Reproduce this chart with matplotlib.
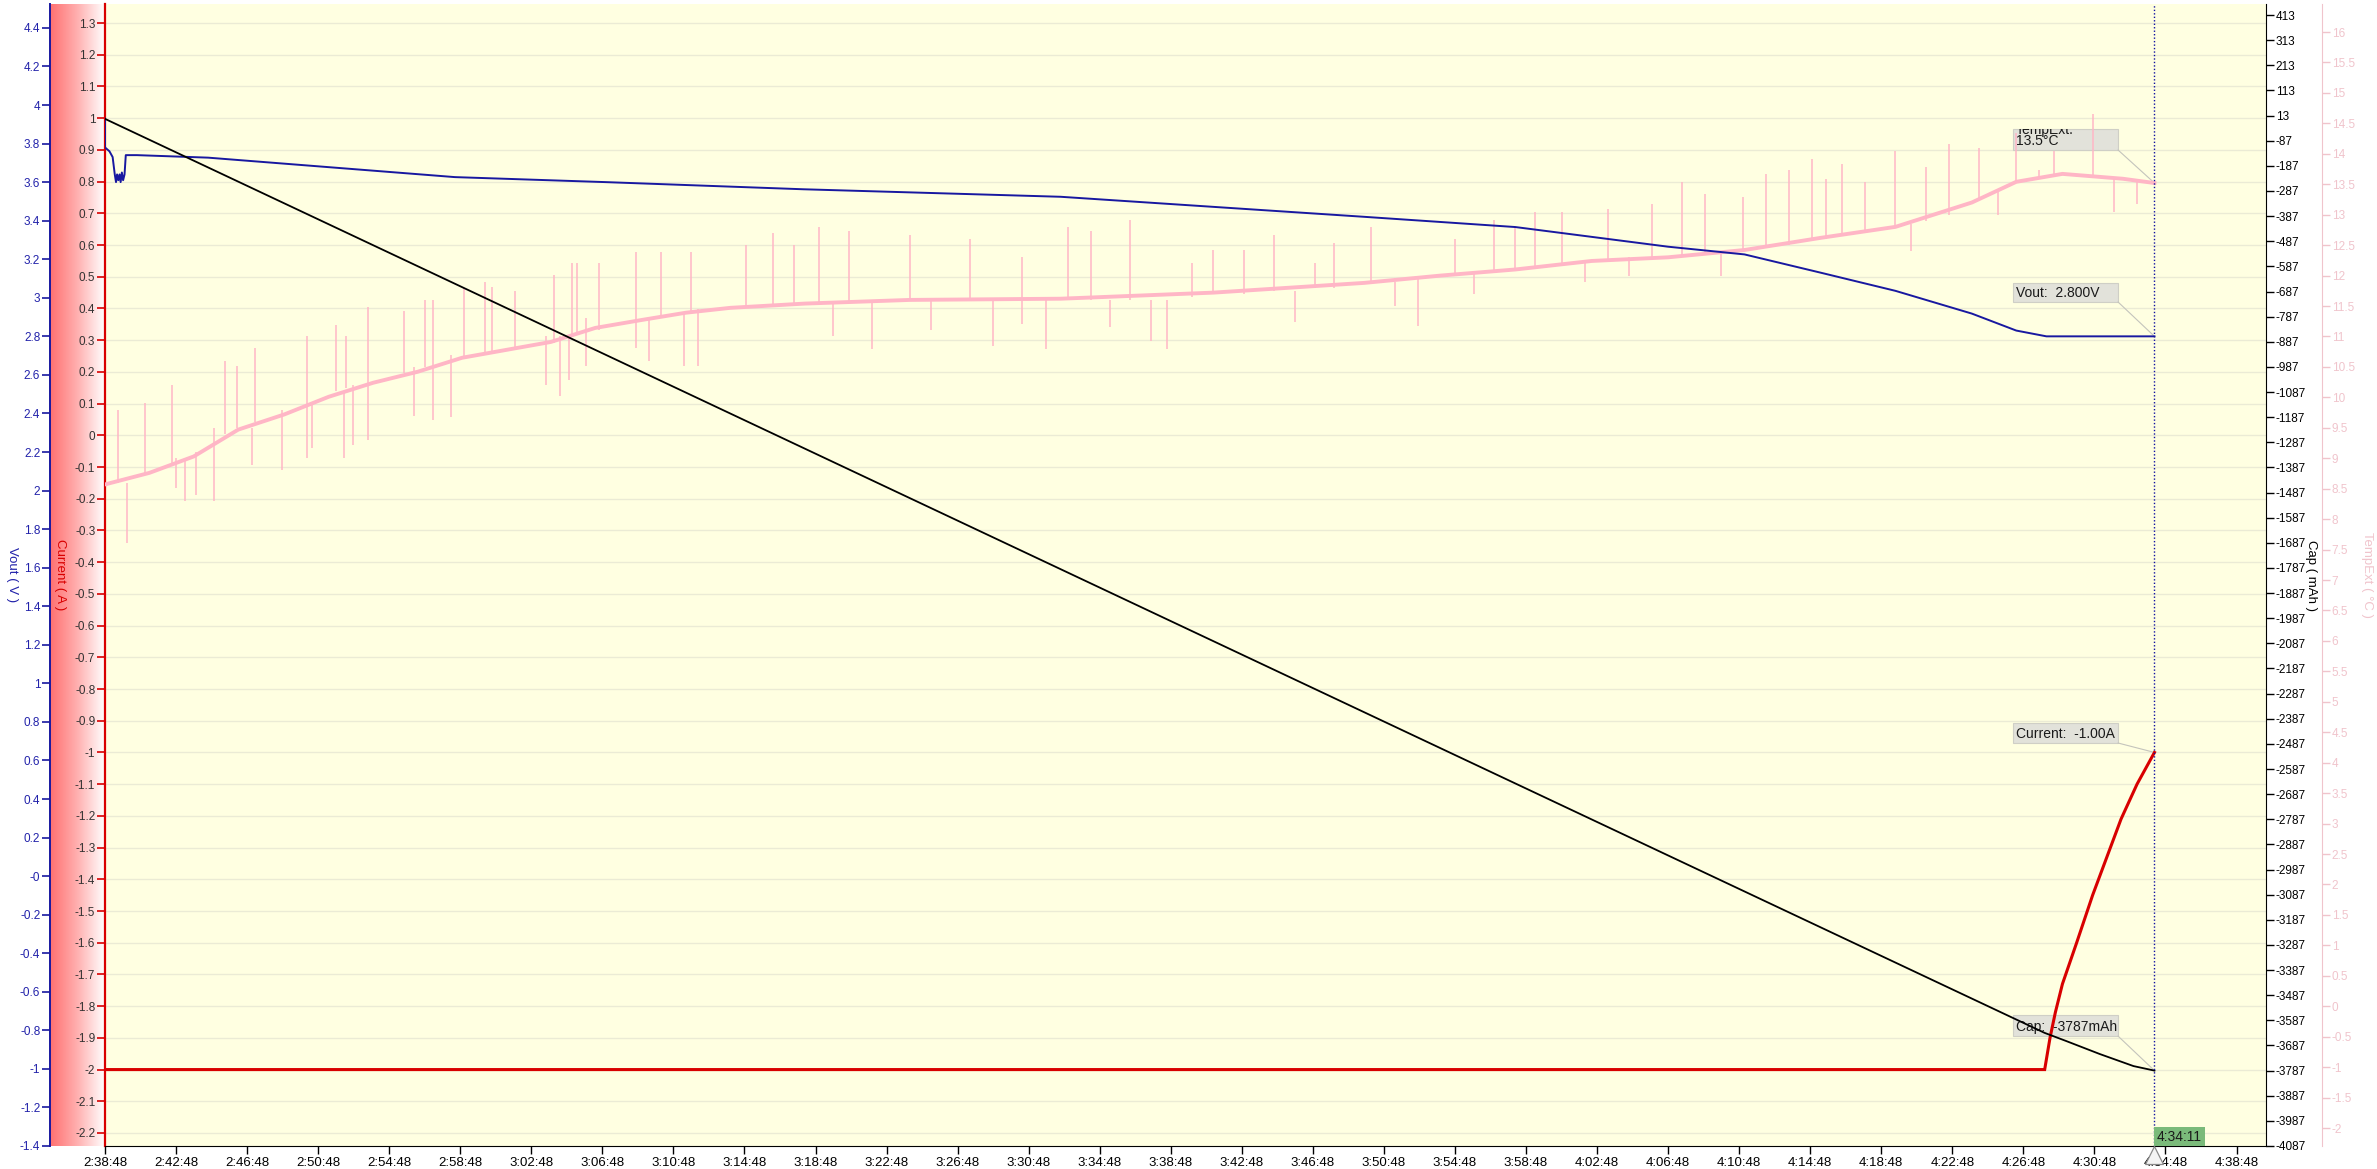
import matplotlib
matplotlib.use('Agg')
import matplotlib.pyplot as plt
import matplotlib.patches as patches
from matplotlib.patches import ConnectionPatch
from matplotlib.colors import LinearSegmentedColormap
import numpy as np

plt.rcParams['font.family'] = ['Liberation Sans', 'DejaVu Sans']
plt.rcParams['axes.unicode_minus'] = False

# x is minutes after 2:38:48
time_labels = ['2:38:48', '2:42:48', '2:46:48', '2:50:48', '2:54:48', '2:58:48',
               '3:02:48', '3:06:48', '3:10:48', '3:14:48', '3:18:48', '3:22:48',
               '3:26:48', '3:30:48', '3:34:48', '3:38:48', '3:42:48', '3:46:48',
               '3:50:48', '3:54:48', '3:58:48', '4:02:48', '4:06:48', '4:10:48',
               '4:14:48', '4:18:48', '4:22:48', '4:26:48', '4:30:48', '4:34:48',
               '4:38:48']
cursor_min = 115.38
cursor_label = '4:34:11'

vout_t = [0, 0, 0.25, 0.43, 0.55, 0.62, 0.68, 0.75, 0.82, 0.88, 0.95, 1.02, 1.1,
          1.17, 1.8, 5.8, 19.7, 28.2, 39.3, 53.8, 70.9, 79.4, 88.0, 92.3, 96.6,
          100.8, 105.1, 107.6, 109.3, 115.38]
vout_v = [3.93, 3.78, 3.76, 3.73, 3.64, 3.60, 3.64, 3.61, 3.64, 3.60, 3.65, 3.61,
          3.64, 3.74, 3.74, 3.727, 3.626, 3.60, 3.563, 3.524, 3.42, 3.367, 3.265,
          3.225, 3.13, 3.036, 2.918, 2.83, 2.80, 2.80]

cur_t = [0, 109.2, 109.5, 109.8, 110.2, 111.0, 111.9, 112.7, 113.5, 114.4, 115.38]
cur_a = [-2.0, -2.0, -1.9, -1.82, -1.73, -1.6, -1.45, -1.33, -1.21, -1.1, -1.0]

cap_t = [0, 109.2, 110.4, 112.3, 114.2, 115.38]
cap_mah = [0, -3637, -3669, -3721, -3769, -3787]

temp_t = [0, 2.5, 5.0, 7.5, 10.1, 12.6, 15.1, 17.6, 20.1, 22.6, 25.1, 27.6, 30.2,
          32.7, 35.2, 39.4, 45.3, 53.8, 62.4, 70.9, 75.2, 79.4, 83.7, 88.0, 92.3,
          96.6, 100.8, 105.1, 107.6, 110.2, 113.6, 115.38]
temp_c = [8.57, 8.76, 9.03, 9.47, 9.72, 10.01, 10.24, 10.42, 10.65, 10.78, 10.91,
          11.14, 11.27, 11.39, 11.47, 11.54, 11.6, 11.62, 11.72, 11.88, 12.0, 12.1,
          12.24, 12.3, 12.42, 12.62, 12.8, 13.2, 13.54, 13.67, 13.59, 13.52]

# temperature spikes: time, low end, high end
spike_t = [0.75, 1.26, 2.26, 3.77, 4.02, 4.52, 5.15, 6.16, 6.73, 7.41, 8.29, 8.42,
           9.97, 11.38, 11.68, 13.0, 13.44, 13.57, 13.94, 14.82, 16.83, 17.39,
           18.0, 18.47, 19.47, 20.2, 21.4, 21.8, 23.1, 24.8, 25.25, 25.6, 26.1,
           26.3, 26.6, 27.1, 27.8, 29.9, 30.6, 31.3, 32.6, 33.0, 33.4, 36.1, 37.6,
           38.8,
           40.2, 41.0, 41.9, 43.2, 45.3, 46.5, 48.7, 50.0, 51.6, 53.0, 54.2, 55.5,
           56.6, 57.7, 58.9, 59.8, 61.2, 62.4, 64.1, 65.8, 67.0, 68.1, 69.2, 71.3,
           72.6, 73.9, 76.0, 77.1, 78.2, 79.4, 80.5, 82.0, 83.3, 84.6, 85.8, 87.1,
           88.8, 90.1, 91.0, 92.2, 93.5, 94.8, 96.1, 96.9, 97.8, 99.1, 100.8,
           101.7, 102.5, 103.8, 105.5, 106.6, 107.6, 108.9, 109.7, 111.9, 113.1,
           114.4]
spike_lo = [8.6, 7.6, 8.76, 8.9, 8.51, 8.29, 8.40, 8.29, 9.4, 9.5, 8.89, 9.6,
            8.81, 9.0, 9.17, 10.1, 9.0, 10.15, 9.22, 9.30, 10.4, 9.70, 10.5, 9.62,
            9.67, 10.65, 10.7, 10.75, 10.8, 10.21, 10.9, 10.02, 10.29, 11.0, 11.05,
            10.51, 11.1, 10.81, 10.59, 11.3, 10.51, 11.4, 10.51, 11.5, 11.5, 11.55,
            11.55, 11.0, 11.55, 10.8, 11.6, 11.1, 11.6, 10.85, 11.2, 10.8, 11.6,
            11.6, 11.15, 11.6, 10.93, 10.8, 11.65, 11.7, 11.7, 11.75, 11.23, 11.8,
            11.8, 11.9, 11.5, 11.18, 12.0, 11.7, 12.05, 12.1, 12.1, 12.2, 11.9,
            12.25, 12.0, 12.3, 12.3, 12.35, 12.0, 12.4, 12.45, 12.5, 12.6, 12.6,
            12.65, 12.7, 12.8, 12.4, 12.9, 13.0, 13.25, 13.0, 13.55, 13.6, 13.65,
            13.6, 13.04, 13.17]
spike_hi = [9.80, 8.6, 9.91, 10.2, 9.0, 9.0, 9.1, 9.5, 10.59, 10.51, 9.5, 10.81,
            9.8, 11.0, 9.9, 11.19, 10.1, 11.0, 10.2, 11.49, 11.41, 10.5, 11.60,
            11.60, 10.7, 11.79, 11.90, 11.82, 11.74, 11.0, 12.01, 11.0, 11.0, 12.20,
            12.20, 11.3, 12.20, 12.39, 11.3, 12.39, 11.4, 12.39, 11.45, 12.50,
            12.70, 12.50,
            12.79, 11.55, 12.74, 11.55, 12.67, 11.6, 12.6, 11.6, 12.3, 11.6, 12.79,
            12.74, 11.6, 12.92, 11.6, 11.6, 12.2, 12.42, 12.42, 12.67, 11.75, 12.2,
            12.54, 12.79, 11.9, 11.95, 12.6, 12.05, 12.92, 12.79, 13.04, 13.04,
            12.2, 13.09, 12.3, 13.17, 13.54, 13.34, 12.35, 13.29, 13.66, 13.74,
            13.91, 13.59, 13.84, 13.54, 14.04, 12.85, 13.79, 14.16, 14.09, 13.4,
            14.34, 13.74, 14.04, 14.66, 13.6, 13.55]

W, H = 2377, 1169
L, R, T, B = 105, 2266, 4, 1146
fig = plt.figure(figsize=(W / 100, H / 100), dpi=100)
fig.patch.set_facecolor('white')

# red gradient strip left of the plot
grad_ax = fig.add_axes([50 / W, 1 - B / H, (L - 50) / W, (B - T) / H])
grad_cm = LinearSegmentedColormap.from_list('strip', ['#FF7070', '#FFB0B0', '#FFFFFF'])
grad_ax.imshow(np.linspace(0, 1, 256).reshape(1, -1), aspect='auto', cmap=grad_cm,
               extent=[0, 1, 0, 1])
grad_ax.axis('off')

ax = fig.add_axes([L / W, 1 - B / H, (R - L) / W, (B - T) / H])
ax.set_facecolor('#FFFFE1')
ax_t = ax.twinx()
ax_v = ax.twinx()
ax_c = ax.twinx()

blue = '#1818A0'
red = '#D80000'
pink = '#FFB6C6'
pink_ax = '#F0C4CC'
xmax = 121.66

ax.set_xlim(0, xmax)
ax.set_ylim(-2.241, 1.36)
ax_v.set_ylim(-1.4, 4.524)
ax_c.set_ylim(-4087, 457)
ax_t.set_ylim(-2.295, 16.46)

# spines
for a in (ax, ax_t, ax_v, ax_c):
    for s in a.spines.values():
        s.set_visible(False)
ax.spines['left'].set_visible(True)
ax.spines['left'].set_color(red)
ax.spines['left'].set_linewidth(1.6)
ax.spines['bottom'].set_visible(True)
ax.spines['bottom'].set_color('black')

ax_v.spines['left'].set_visible(True)
ax_v.spines['left'].set_position(('axes', (50 - L) / (R - L)))
ax_v.spines['left'].set_color(blue)
ax_v.spines['left'].set_linewidth(1.4)
ax_v.yaxis.set_ticks_position('left')
ax_v.yaxis.set_label_position('left')

ax_c.spines['right'].set_visible(True)
ax_c.spines['right'].set_color('black')

ax_t.spines['right'].set_visible(True)
ax_t.spines['right'].set_position(('axes', (2322 - L) / (R - L)))
ax_t.spines['right'].set_color(pink_ax)

# ticks
ax.set_xticks(np.arange(0, 121, 4))
ax.set_xticklabels(time_labels)
ax.tick_params(axis='x', length=6, width=1, labelsize=9.5, pad=2, colors='black')

cur_ticks = np.round(np.arange(-2.2, 1.31, 0.1), 1)
ax.set_yticks(cur_ticks)
ax.set_yticklabels(['%g' % v for v in cur_ticks])
ax.tick_params(axis='y', length=6, width=1.2, labelsize=8.5, pad=1,
               color=red, labelcolor='#333333')
ax.yaxis.grid(True, color='#EBEBD5', lw=1)
ax.set_axisbelow(True)

v_ticks = np.round(np.arange(-1.4, 4.41, 0.2), 1)
ax_v.set_yticks(v_ticks)
ax_v.set_yticklabels(['%g' % v for v in v_ticks])
ax_v.tick_params(axis='y', length=6, width=1.2, labelsize=8.5, pad=1,
                 color=blue, labelcolor='#2222AA')

c_ticks = np.arange(413, -4088, -100)
ax_c.set_yticks(c_ticks)
ax_c.set_yticklabels(['%d' % v for v in c_ticks])
ax_c.tick_params(axis='y', length=6, width=1, labelsize=8.5, pad=1,
                 color='black', labelcolor='black')

t_ticks = np.arange(-2, 16.01, 0.5)
ax_t.set_yticks(t_ticks)
ax_t.set_yticklabels(['%g' % v for v in t_ticks])
ax_t.tick_params(axis='y', length=6, width=1, labelsize=8.5, pad=1,
                 color=pink_ax, labelcolor=pink_ax)

# readout boxes at cursor, drawn in the bottom axes so the curves pass over them
cursor_vals = [
    (ax_t, temp_c[-1], 'TempExt.\n13.5\u00b0C', 0.8722, 0.8905),
    (ax_v, vout_v[-1], 'Vout:  2.800V', 0.7391, 0.7557),
    (ax, cur_a[-1], 'Current:  -1.00A', 0.3529, 0.3704),
    (ax_c, cap_mah[-1], 'Cap:  -3787mAh', 0.0963, 0.1147),
]
bx0, bx1 = (2013 - L) / (R - L), (2118 - L) / (R - L)
for a, val, txt, y0, y1 in cursor_vals:
    rect = patches.Rectangle((bx0, y0), bx1 - bx0, y1 - y0, transform=ax.transAxes,
                             facecolor='#E2E2DA', edgecolor='#CFCFC6', lw=0.8,
                             zorder=1.5)
    ax.add_patch(rect)
    t = ax.text(bx0 + 0.0012, y0 + 0.0015, txt, transform=ax.transAxes,
                ha='left', va='bottom', fontsize=10, color='#1A1A1A', zorder=1.6,
                linespacing=0.78, clip_on=True)
    t.set_clip_path(rect)
    con = ConnectionPatch(xyA=(bx1, y0), coordsA=ax.transAxes,
                          xyB=(cursor_min, val), coordsB=a.transData,
                          color='#C4C4BC', lw=0.8, zorder=1.5)
    ax.add_artist(con)

# series
ax.plot(cur_t, cur_a, color=red, lw=2.2, solid_joinstyle='miter', zorder=2)
ax_t.plot(temp_t, temp_c, color=pink, lw=2.8)
ax_t.vlines(spike_t, spike_lo, spike_hi, color=pink, lw=1.1)
ax_v.plot(vout_t, vout_v, color=blue, lw=1.4)
ax_c.plot(cap_t, cap_mah, color='black', lw=1.3)

# cursor
ax_c.axvline(cursor_min, color='#1010A0', lw=1, ls=(0, (1, 1.5)))

# cursor time flag
gx0 = cursor_min / xmax
gx1 = (2205 - L) / (R - L)
ax_c.add_patch(patches.Rectangle((gx0, 0), gx1 - gx0, 19 / (B - T),
                                 transform=ax_c.transAxes, facecolor='#7ABA7A',
                                 edgecolor='none', zorder=7))
ax_c.text(gx0 + 0.001, 2 / (B - T), cursor_label, transform=ax_c.transAxes,
          ha='left', va='bottom', fontsize=10, color='#1A1A1A', zorder=8)
ax_c.plot([cursor_min], [-9 / (B - T)], marker='^', ms=13, mfc='#F4F4F4',
          mec='#8A8A8A', mew=0.9, transform=ax_c.get_xaxis_transform(),
          clip_on=False, zorder=9)

# axis titles
fig.text(12 / W, 1 - 575 / H, 'Vout ( V )', rotation=270, color='#2222AA',
         fontsize=9.5, ha='center', va='center')
fig.text(60 / W, 1 - 575 / H, 'Current ( A )', rotation=270, color=red,
         fontsize=9.5, ha='center', va='center')
fig.text(2311 / W, 1 - 575 / H, 'Cap ( mAh )', rotation=270, color='black',
         fontsize=9.5, ha='center', va='center')
fig.text(2367 / W, 1 - 575 / H, 'TempExt ( \u00b0C )', rotation=270, color=pink_ax,
         fontsize=9.5, ha='center', va='center')

plt.savefig('out.png', dpi=100)
